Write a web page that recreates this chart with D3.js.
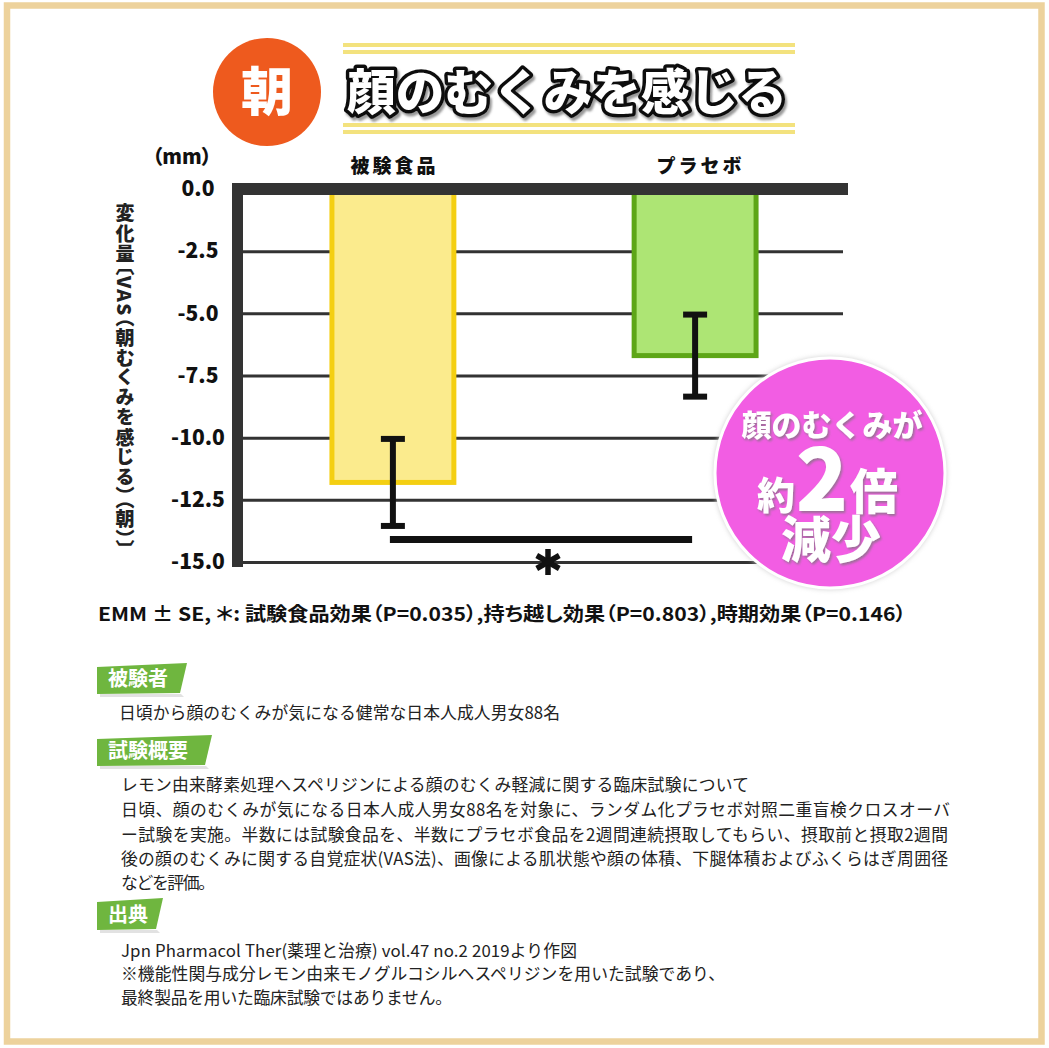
<!DOCTYPE html>
<html><head><meta charset="utf-8">
<script src="https://cdn.jsdelivr.net/npm/d3@7"></script>
<style>
html,body{margin:0;padding:0;background:#fff;}
svg{display:block;}
text{font-family:"Noto Sans CJK JP","Noto Sans",sans-serif;}
</style></head><body>
<svg id="c" width="1049" height="1048"></svg>
<script>
// ---- data ----
const categories = ["被験食品", "プラセボ"];
const means = [-11.8, -6.7];
const stdErrors = [1.75, 1.65];
const yTicks = [0, -2.5, -5, -7.5, -10, -12.5, -15];
const yDomain = [0, -15];
const unitLabel = "（mm）";
const yTitle = "変化量〔VAS（朝むくみを感じる）（朝）〕";
const footnote = "EMM ± SE, ＊: 試験食品効果（P=0.035）,持ち越し効果（P=0.803）,時期効果（P=0.146）";
const titleBadge = "朝";
const titleText = "顔のむくみを感じる";
const calloutLines = ["顔のむくみが", "約", "2", "倍", "減少"];
const sections = [
  {tag: "被験者", lines: ["日頃から顔のむくみが気になる健常な日本人成人男女88名"]},
  {tag: "試験概要", lines: [
    "レモン由来酵素処理ヘスペリジンによる顔のむくみ軽減に関する臨床試験について",
    "日頃、顔のむくみが気になる日本人成人男女88名を対象に、ランダム化プラセボ対照二重盲検クロスオーバ",
    "ー試験を実施。半数には試験食品を、半数にプラセボ食品を2週間連続摂取してもらい、摂取前と摂取2週間",
    "後の顔のむくみに関する自覚症状(VAS法)、画像による肌状態や顔の体積、下腿体積およびふくらはぎ周囲径",
    "などを評価。"]},
  {tag: "出典", lines: [
    "Jpn Pharmacol Ther(薬理と治療) vol.47 no.2 2019より作図",
    "※機能性関与成分レモン由来モノグルコシルヘスペリジンを用いた試験であり、",
    "最終製品を用いた臨床試験ではありません。"]}
];

// ---- styles / layout ----
const barFill = ["#FBEB8D", "#ADE574"];
const barStroke = ["#F4CF12", "#5DA617"];
const tagColor = "#6FB63F";
const svg = d3.select("#c");

const defs = svg.append("defs");
const sh = defs.append("filter").attr("id","sh").attr("x","-20%").attr("y","-20%").attr("width","140%").attr("height","140%");
sh.append("feDropShadow").attr("dx",1.5).attr("dy",2).attr("stdDeviation",1).attr("flood-color","#777").attr("flood-opacity",0.7);
const sh2 = defs.append("filter").attr("id","sh2").attr("x","-20%").attr("y","-20%").attr("width","140%").attr("height","140%");
sh2.append("feDropShadow").attr("dx",2).attr("dy",3).attr("stdDeviation",1.2).attr("flood-color","#555").attr("flood-opacity",0.6);
const glow = defs.append("filter").attr("id","glow").attr("x","-20%").attr("y","-20%").attr("width","140%").attr("height","140%");
glow.append("feDropShadow").attr("dx",0).attr("dy",0).attr("stdDeviation",2.5).attr("flood-color","#ccc").attr("flood-opacity",0.9);

// frame border
svg.append("rect").attr("x",7).attr("y",5.5).attr("width",1034.5).attr("height",1036)
  .attr("fill","none").attr("stroke","#EDD29C").attr("stroke-width",6.5);

// ---- title ----
svg.selectAll("line.yl").data([45, 52, 125, 132]).join("line")
  .attr("x1",343).attr("x2",795).attr("y1",d=>d).attr("y2",d=>d)
  .attr("stroke","#F3E27E").attr("stroke-width",4);
svg.append("circle").attr("cx",267).attr("cy",92).attr("r",54).attr("fill","#EE5A1E");
svg.append("text").attr("x",267).attr("y",92).attr("dy","0.36em").attr("text-anchor","middle")
  .attr("font-size",52).attr("font-weight",900).attr("fill","#fff").text(titleBadge);
svg.append("text").attr("x",347).attr("y",92).attr("dy","0.36em")
  .attr("font-size",49).attr("font-weight",900).attr("fill","#fff")
  .attr("stroke","#111").attr("stroke-width",7).attr("stroke-linejoin","round")
  .attr("paint-order","stroke").attr("filter","url(#sh2)")
  .attr("textLength",440).attr("lengthAdjust","spacingAndGlyphs").text(titleText);

// ---- scales ----
const x = d3.scaleBand().domain(categories).range([243, 845]).paddingInner(0.58).paddingOuter(0.286);
const y = d3.scaleLinear().domain(yDomain).range([189, 562]);
const bw = x.bandwidth();

// gridlines
const grid = svg.append("g").attr("transform","translate(243,0)")
  .call(d3.axisRight(y).tickValues(yTicks.slice(1)).tickSize(600).tickFormat(""));
grid.select(".domain").remove();
grid.selectAll("line").attr("stroke","#333").attr("stroke-width",3);

// bars
svg.selectAll("rect.bar").data(categories).join("rect").attr("class","bar")
  .attr("x",d=>x(d)+2.5).attr("width",bw-5)
  .attr("y",y(0)).attr("height",(d,i)=>y(means[i])-y(0))
  .attr("fill",(d,i)=>barFill[i]).attr("stroke",(d,i)=>barStroke[i]).attr("stroke-width",5);

// axis frame
svg.append("rect").attr("x",232).attr("y",183).attr("width",616).attr("height",12).attr("fill","#333");
svg.append("rect").attr("x",232).attr("y",183).attr("width",11).attr("height",384).attr("fill","#333");

// error bars
const eb = svg.selectAll("g.eb").data(categories).join("g").attr("class","eb");
eb.append("line").attr("x1",d=>x(d)+bw/2).attr("x2",d=>x(d)+bw/2)
  .attr("y1",(d,i)=>y(means[i]+stdErrors[i])).attr("y2",(d,i)=>y(means[i]-stdErrors[i]))
  .attr("stroke","#111").attr("stroke-width",6);
[1,-1].forEach(s=>{
  eb.append("line").attr("x1",d=>x(d)+bw/2-12).attr("x2",d=>x(d)+bw/2+12)
    .attr("y1",(d,i)=>y(means[i]+s*stdErrors[i])).attr("y2",(d,i)=>y(means[i]+s*stdErrors[i]))
    .attr("stroke","#111").attr("stroke-width",6);
});

// significance bracket
const bx1 = x(categories[0])+bw/2-3, bx2 = x(categories[1])+bw/2-3;
svg.append("line").attr("x1",bx1).attr("x2",bx2).attr("y1",y(-14.1)).attr("y2",y(-14.1))
  .attr("stroke","#111").attr("stroke-width",7);
const ax = (bx1+bx2)/2 + 7, ay = y(-15);
[90, 30, 150].forEach(a=>{
  const r = 13, rad = a*Math.PI/180;
  svg.append("line").attr("x1",ax-r*Math.cos(rad)).attr("y1",ay-r*Math.sin(rad))
    .attr("x2",ax+r*Math.cos(rad)).attr("y2",ay+r*Math.sin(rad))
    .attr("stroke","#111").attr("stroke-width",5.5);
});

// y tick labels
const yax = svg.append("g").attr("transform","translate(243,0)")
  .call(d3.axisLeft(y).tickValues(yTicks).tickSize(0).tickFormat(d=>d.toFixed(1)));
yax.select(".domain").remove();
yax.selectAll("text").attr("x",-45).attr("text-anchor","middle")
  .attr("font-size",21).attr("font-weight",900).attr("fill","#111")
  .style("font-family",'"Noto Sans CJK JP",sans-serif');

// category labels
svg.selectAll("text.cat").data(categories).join("text").attr("class","cat")
  .attr("x",d=>x(d)+bw/2+(d===categories[1]?4:0)).attr("y",166).attr("dy","0.36em")
  .attr("text-anchor","middle").attr("font-size",19).attr("font-weight",900).attr("fill","#111")
  .attr("textLength",85).attr("lengthAdjust","spacing").text(d=>d);

// unit label
svg.append("text").attr("x",182).attr("y",157).attr("dy","0.36em").attr("text-anchor","middle")
  .attr("font-size",20).attr("font-weight",900).attr("fill","#111")
  .style("font-feature-settings",'"palt"').text(unitLabel);

// y title vertical
svg.append("text").attr("x",125).attr("y",377).attr("text-anchor","middle")
  .style("writing-mode","vertical-rl").style("text-orientation","mixed")
  .style("font-feature-settings",'"vpal"')
  .attr("font-size",19).attr("font-weight",900).attr("fill","#222")
  .attr("textLength",347).attr("lengthAdjust","spacing").text(yTitle);

// callout circle
svg.append("circle").attr("cx",830).attr("cy",473).attr("r",115)
  .attr("fill","#F25DE3").attr("stroke","#fff").attr("stroke-width",3).attr("filter","url(#glow)");
const ct = svg.append("text").attr("fill","#fff").attr("font-weight",900).attr("filter","url(#sh)")
  .attr("text-anchor","middle");
ct.append("tspan").attr("x",832).attr("y",436).attr("font-size",30).text(calloutLines[0]);
ct.append("tspan").attr("x",776).attr("y",509).attr("font-size",38).text(calloutLines[1]);
ct.append("tspan").attr("x",822).attr("y",511).attr("font-size",86).text(calloutLines[2]);
ct.append("tspan").attr("x",874).attr("y",509).attr("font-size",48).text(calloutLines[3]);
ct.append("tspan").attr("x",831).attr("y",558).attr("font-size",50).text(calloutLines[4]);

// footnote
svg.append("text").attr("x",98).attr("y",614).attr("dy","0.36em")
  .attr("font-size",19).attr("font-weight",700).attr("fill","#111")
  .style("font-feature-settings",'"palt"')
  .attr("textLength",808).attr("lengthAdjust","spacingAndGlyphs").text(footnote);

// sections
const tagBoxes = [[665,693,187],[737,765,212],[900,929,163]];
const lineYs = [[713],[785,810,835,859,883],[951,974,998]];
const lineWidths = [[441],[628,829,827,827,94],[456,604,331]];
sections.forEach((s,i)=>{
  const [t,b,r] = tagBoxes[i];
  svg.append("polygon").attr("points",`${100},${b+4} ${r-3},${b+4} ${r-6},${b+1} ${100},${b+1}`).attr("fill","#e2e2e2");
  svg.append("polygon").attr("points",`97,${t+2} ${r},${t-2} ${r-7},${b} 97,${b+1}`).attr("fill",tagColor);
  svg.append("text").attr("x",108).attr("y",(t+b)/2).attr("dy","0.36em")
    .attr("font-size",20).attr("font-weight",700).attr("fill","#fff").text(s.tag);
  s.lines.forEach((ln,j)=>{
    svg.append("text").attr("x",i===0?119:121).attr("y",lineYs[i][j]).attr("dy","0.36em")
      .attr("font-size",16.8).attr("fill","#222")
      .attr("textLength",lineWidths[i][j]).attr("lengthAdjust","spacing").text(ln);
  });
});
</script>
</body></html>
